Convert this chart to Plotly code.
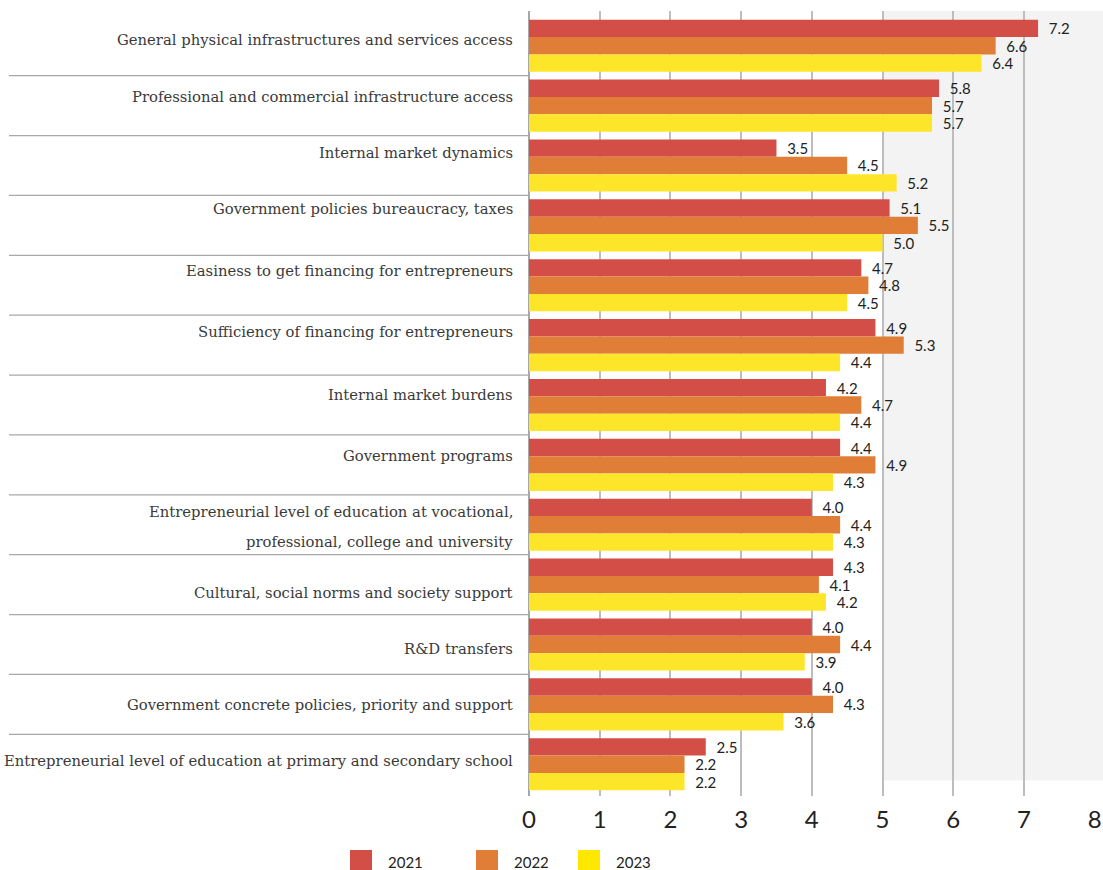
import plotly.graph_objects as go

categories = [
    "General physical infrastructures and services access",
    "Professional and commercial infrastructure access",
    "Internal market dynamics",
    "Government policies bureaucracy, taxes",
    "Easiness to get financing for entrepreneurs",
    "Sufficiency of financing for entrepreneurs",
    "Internal market burdens",
    "Government programs",
    "Entrepreneurial level of education at vocational,<br>professional, college and university",
    "Cultural, social norms and society support",
    "R&D transfers",
    "Government concrete policies, priority and support",
    "Entrepreneurial level of education at primary and secondary school",
]

years = ["2021", "2022", "2023"]
values_2021 = [7.2, 5.8, 3.5, 5.1, 4.7, 4.9, 4.2, 4.4, 4.0, 4.3, 4.0, 4.0, 2.5]
values_2022 = [6.6, 5.7, 4.5, 5.5, 4.8, 5.3, 4.7, 4.9, 4.4, 4.1, 4.4, 4.3, 2.2]
values_2023 = [6.4, 5.7, 5.2, 5.0, 4.5, 4.4, 4.4, 4.3, 4.3, 4.2, 3.9, 3.6, 2.2]

x_ticks = [0, 1, 2, 3, 4, 5, 6, 7, 8]

# vertical nudge of each row label, in row heights
label_offsets = [-0.10, -0.15, -0.22, -0.28, -0.25, -0.23, -0.18, -0.15,
                 0.03, 0.13, 0.07, 0.0, -0.07]

colors = ["#D44E48", "#E07E38", "#FDE629"]
legend_colors = ["#D44E48", "#E07E38", "#FFE800"]

series = [values_2021, values_2022, values_2023]

W, H = 1103, 870
ML, MR, MT, MB = 529, 8, 11, 74
PW = W - ML - MR
PH = H - MT - MB


def px_x(px):
    return (px - ML) / PW


def px_y(py):
    return (H - MB - py) / PH


fig = go.Figure()
for name, vals, col in zip(years, series, colors):
    fig.add_trace(go.Bar(
        y=list(range(len(categories))),
        x=vals,
        name=name,
        orientation="h",
        marker=dict(color=col, line=dict(width=0)),
        texttemplate="  %{x:.1f}",
        textposition="outside",
        constraintext="none",
        cliponaxis=False,
        textfont=dict(family="Lato", size=15, color="#222222"),
        showlegend=False,
    ))

shapes = []
# shaded band from 5 to the right edge
shapes.append(dict(type="rect", xref="paper", yref="y", x0=5 / 8, x1=px_x(W + 2),
                   y0=-0.58, y1=12.27, fillcolor="#F3F3F3",
                   line=dict(width=0), layer="below"))
# separators between category rows in the label column
for k in range(len(categories) - 1):
    shapes.append(dict(type="line", xref="paper", yref="y",
                       x0=px_x(9), x1=0, y0=k + 0.5, y1=k + 0.5,
                       line=dict(color="#A8A8A8", width=1.3)))

label_font = dict(family="DejaVu Serif", size=14.8, color="#3a3a3a")
annotations = []
for i, (cat, off) in enumerate(zip(categories, label_offsets)):
    lines = cat.split("<br>")
    n = len(lines)
    for j, line in enumerate(lines):
        annotations.append(dict(
            xref="paper", yref="y", x=px_x(515), y=i + off, text=line,
            showarrow=False, xanchor="right", yanchor="middle", align="right",
            yshift=-(j - (n - 1) / 2) * 30,
            font=label_font,
        ))

# legend drawn as swatches with labels
leg_x = [350, 476, 578]
for name, col, lx in zip(years, legend_colors, leg_x):
    shapes.append(dict(type="rect", xref="paper", yref="paper",
                       x0=px_x(lx), x1=px_x(lx + 22),
                       y0=px_y(850), y1=px_y(871),
                       fillcolor=col, line=dict(width=0)))
    annotations.append(dict(
        xref="paper", yref="paper", x=px_x(lx + 36),
        y=px_y(862), text=name, showarrow=False,
        xanchor="left", yanchor="middle",
        font=dict(family="Lato", size=15, color="#222222"),
    ))

fig.update_layout(
    width=W, height=H,
    margin=dict(l=ML, r=MR, t=MT, b=MB),
    paper_bgcolor="white", plot_bgcolor="rgba(0,0,0,0)",
    barmode="group", bargap=0.13, bargroupgap=0,
    shapes=shapes, annotations=annotations,
    xaxis=dict(range=[0, 8.005], tickvals=x_ticks, ticktext=[str(v) for v in x_ticks],
               showgrid=True, gridcolor="#BDBDBD", gridwidth=1.5,
               zeroline=True, zerolinecolor="#A8A8A8", zerolinewidth=1.5,
               showline=False, ticks="", ticklabelstandoff=7,
               ticklabeloverflow="allow", automargin=False,
               tickfont=dict(family="Lato", size=24, color="#222222")),
    yaxis=dict(range=[12.53, -0.58], showticklabels=False, showgrid=False,
               zeroline=False, showline=False, ticks="", automargin=False),
)

fig.write_html("out.html")
